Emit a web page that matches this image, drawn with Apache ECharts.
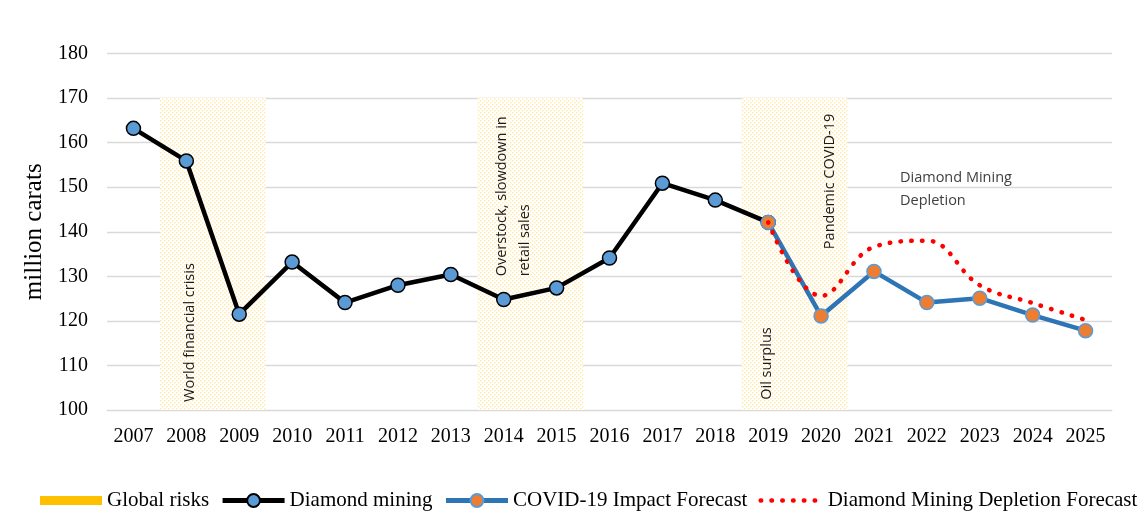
<!DOCTYPE html>
<html>
<head>
<meta charset="utf-8">
<script src="https://cdn.jsdelivr.net/npm/echarts@6/dist/echarts.min.js"></script>
<style>html,body{margin:0;padding:0;background:#fff;}#c{width:1140px;height:530px;}</style>
</head>
<body>
<div id="c"></div>
<script>
var years = ['2007','2008','2009','2010','2011','2012','2013','2014','2015','2016','2017','2018','2019','2020','2021','2022','2023','2024','2025'];
var yTicks = [100,110,120,130,140,150,160,170,180];
var globalRisks = [null,170,170,null,null,null,null,170,170,null,null,null,170,170,null,null,null,null,null];
var diamondMining = [163.2,155.9,121.5,133.2,124.1,128,130.4,124.8,127.4,134.1,150.9,147.1,142.1,null,null,null,null,null,null];
var covidForecast = [null,null,null,null,null,null,null,null,null,null,null,null,142.1,121.1,131.1,124.1,125.1,121.3,117.8];
var depletionForecast = [null,null,null,null,null,null,null,null,null,null,null,null,142.1,125.6,136.6,138,128,124,120.2];

var pat = document.createElement('canvas');
pat.width = 4; pat.height = 4;
var pc = pat.getContext('2d');
pc.fillStyle = '#ffffff'; pc.fillRect(0,0,4,4);
pc.fillStyle = '#FFEBB3';
pc.fillRect(0,0,1.5,1.5);
pc.fillRect(2,2,1.5,1.5);

var serif = '"Liberation Serif", "Times New Roman", serif';
var sans = '"Open Sans", "Liberation Sans", sans-serif';

var chart = echarts.init(document.getElementById('c'));
chart.setOption({
  animation: false,
  backgroundColor: '#fff',
  grid: {left: 107, right: 28, top: 53.5, bottom: 120},
  legend: {
    left: 40, top: 490, width: 1100, padding: 0, itemWidth: 62, itemHeight: 16, itemGap: 11,
    textStyle: {fontFamily: serif, fontSize: 21, color: '#000'},
    data: [
      {name: 'Global risks', icon: 'path://M0,0L0.01,0M0,16L0.01,16M0,3.5H62V12.5H0Z', itemStyle: {color: '#FFC000'}},
      {name: 'Diamond mining', lineStyle: {width: 5}},
      {name: 'COVID-19 Impact Forecast', lineStyle: {width: 5}},
      {name: 'Diamond Mining Depletion Forecast', lineStyle: {width: 4.5}, itemStyle: {opacity: 0}}
    ]
  },
  xAxis: {
    type: 'category', data: years, boundaryGap: true,
    axisLine: {show: true, lineStyle: {color: '#D9D9D9'}},
    axisTick: {show: false},
    axisLabel: {fontFamily: serif, fontSize: 20, color: '#000', margin: 17, interval: 0}
  },
  yAxis: {
    type: 'value', min: yTicks[0], max: yTicks[yTicks.length-1], interval: 10,
    name: 'million carats', nameLocation: 'middle', nameRotate: 90, nameGap: 54,
    nameTextStyle: {fontFamily: serif, fontSize: 25, color: '#000'},
    axisLine: {show: false}, axisTick: {show: false},
    axisLabel: {fontFamily: serif, fontSize: 20, color: '#000', margin: 19},
    splitLine: {lineStyle: {color: '#D9D9D9', width: 1.3}}
  },
  series: [
    {
      name: 'Global risks', type: 'bar', data: globalRisks, barWidth: '100%', barCategoryGap: '0%',
      itemStyle: {color: {image: pat, repeat: 'repeat'}}, z: 1, silent: true
    },
    {
      name: 'Diamond mining', type: 'line', data: diamondMining,
      lineStyle: {color: '#000', width: 4.5}, symbol: 'circle', symbolSize: 14,
      itemStyle: {color: '#5B9BD5', borderColor: '#000', borderWidth: 1.5}, z: 3
    },
    {
      name: 'COVID-19 Impact Forecast', type: 'line', data: covidForecast,
      lineStyle: {color: '#2E75B6', width: 4.5}, symbol: 'circle', symbolSize: 14,
      itemStyle: {color: '#ED7D31', borderColor: '#5B9BD5', borderWidth: 1.5}, z: 4
    },
    {
      name: 'Diamond Mining Depletion Forecast', type: 'line', data: depletionForecast,
      smooth: 0.4, symbol: 'none',
      lineStyle: {color: '#FF0000', width: 4.5, type: [0.5, 10.3], cap: 'round'},
      itemStyle: {color: '#FF0000'}, z: 5
    }
  ]
});

function px(i, v) { return chart.convertToPixel({gridIndex: 0}, [i, v]); }
function vtext(i, v, dx, txt) {
  var p = px(i, v);
  return {
    type: 'text', x: p[0] + dx, y: p[1], rotation: Math.PI / 2, z: 10,
    style: {text: txt, font: '14.5px ' + sans, fill: '#1a1a1a',
      textAlign: 'left', textVerticalAlign: 'middle', align: 'left', verticalAlign: 'middle'}
  };
}
var pd = px(14, 154.6);
chart.setOption({
  graphic: [
    vtext(1, 101.8, 4, 'World financial crisis'),
    vtext(7, 130, -2, 'Overstock, slowdown in'),
    vtext(7, 130, 21, 'retail sales'),
    vtext(12, 102.3, -1, 'Oil surplus'),
    vtext(13, 136.1, 9, 'Pandemic COVID-19'),
    {
      type: 'text', x: pd[0] + 26, y: pd[1], z: 10,
      style: {text: 'Diamond Mining\nDepletion', font: '14.5px ' + sans, fill: '#404040', lineHeight: 23,
        textAlign: 'left', textVerticalAlign: 'top', align: 'left', verticalAlign: 'top'}
    }
  ]
});
</script>
</body>
</html>
